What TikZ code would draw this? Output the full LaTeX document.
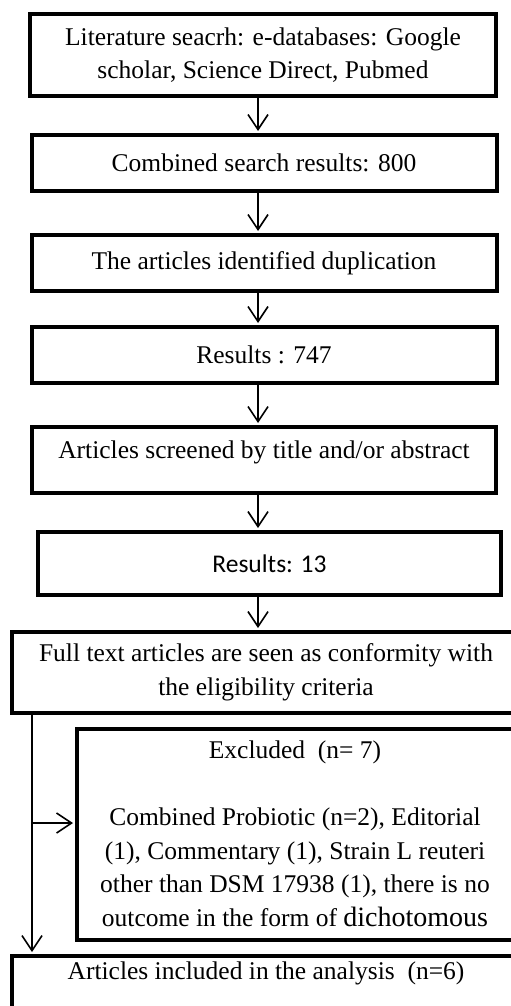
\documentclass[tikz,border=0pt]{standalone}
\usepackage{fontspec}
\setmainfont{Liberation Serif}
\newfontfamily\calfont{Carlito}
\usepackage{tikz}
\usetikzlibrary{arrows.meta, positioning, calc}

\begin{document}
\begin{tikzpicture}[x=1pt, y=-1pt,
  stage/.style={draw=black, line width=4pt, fill=white, align=center,
    inner sep=1pt, font=\fontsize{25.5}{33.5}\selectfont},
  flow/.style={-{Straight Barb[length=15pt, width=20pt, line width=1.6pt]},
    line width=1.6pt, shorten >=2pt}]

  \useasboundingbox (0,0) rectangle (511,1006);
  \clip (0,0) rectangle (511,1006);

  % main column of stages
  \node[stage, minimum width=466pt, minimum height=82pt] (search) at (263,55)
    {Literature seacrh: e-databases: Google\\scholar, Science Direct, Pubmed};
  \node[stage, minimum width=465pt, minimum height=56pt] (combined) at (264,163)
    {Combined search results: 800};
  \node[stage, minimum width=465pt, minimum height=56pt] (dupl) at (264,263)
    {The articles identified duplication};
  \node[stage, minimum width=465pt, minimum height=56pt] (res747) at (264,355)
    {Results : 747};
  \node[stage, minimum width=464pt, minimum height=66pt, text depth=20pt] (screen) at (264,460)
    {Articles screened by title and/or abstract};
  \node[stage, minimum width=463pt, minimum height=63pt, font=\calfont\fontsize{25.5}{33.5}\selectfont] (res13) at (269.5,563.5)
    {Results: 13};
  \node[stage, minimum width=508pt, minimum height=81pt] (fulltext) at (266,672.5)
    {Full text articles are seen as conformity with\\the eligibility criteria};
  \node[stage, minimum width=436pt, minimum height=211pt] (excl) at (295,834)
    {Excluded\ \ (n= 7)\\[33.5pt]
     Combined Probiotic (n=2), Editorial\\
     (1), Commentary (1), Strain L reuteri\\
     other than DSM 17938 (1), there is no\\
     outcome in the form of {\fontsize{28}{33.5}\selectfont dichotomous}};
  \node[stage, anchor=north, minimum width=508pt, text height=22pt, text depth=60pt] (incl) at (266,954)
    {Articles included in the analysis\ \ (n=6)};

  % connector guides
  \coordinate (spine) at (258,0);
  \coordinate (side) at (32,0);
  \coordinate (fork) at (32,823);

  % arrows down the column
  \draw[flow] (search.south -| spine) -- (combined.north -| spine);
  \draw[flow] (combined.south -| spine) -- (dupl.north -| spine);
  \draw[flow] (dupl.south -| spine) -- (res747.north -| spine);
  \draw[flow] (res747.south -| spine) -- (screen.north -| spine);
  \draw[flow] (screen.south -| spine) -- (res13.north -| spine);
  \draw[flow] (res13.south -| spine) -- (fulltext.north -| spine);

  % side branch
  \draw[flow] (fulltext.south -| side) -- (incl.north -| side);
  \draw[flow] (fork) -- (excl.west |- fork);

\end{tikzpicture}
\end{document}
